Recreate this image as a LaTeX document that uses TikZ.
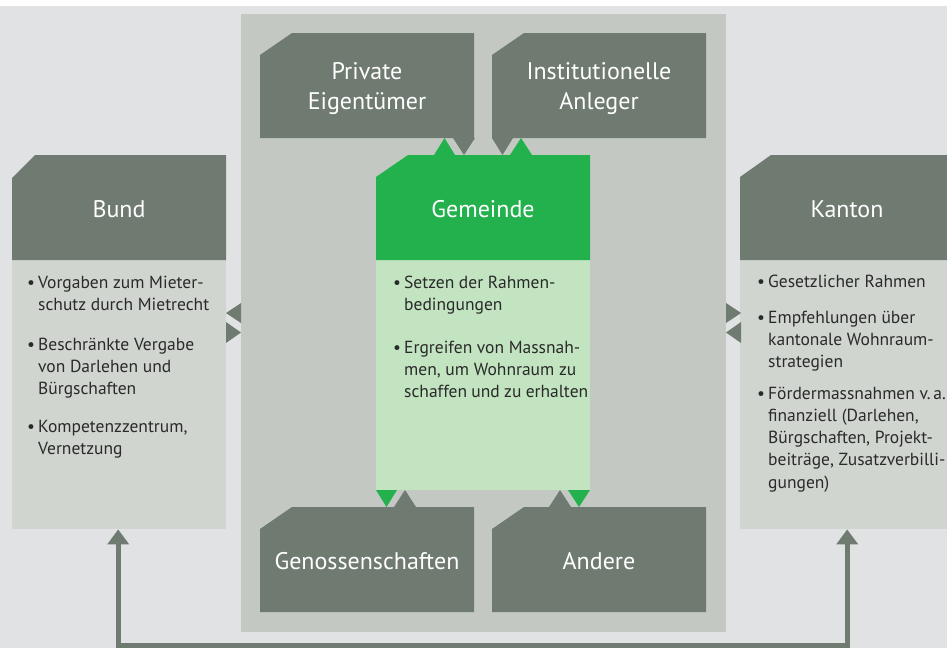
\documentclass[tikz,border=0pt]{standalone}
\usepackage{fontspec}
\setmainfont{PT Sans}
\usetikzlibrary{arrows.meta}
\definecolor{dk}{HTML}{6F7A71}
\definecolor{bg}{HTML}{E1E2E4}
\definecolor{panel}{HTML}{C3C8C3}
\definecolor{bodyc}{HTML}{D0D5D0}
\definecolor{grn}{HTML}{22B14C}
\definecolor{lgrn}{HTML}{C2E4C0}
\definecolor{txt}{HTML}{2A2A2A}
\newcommand{\bul}{\makebox[11pt][l]{•}}
\tikzset{
  headtext/.style={text=white, align=center, inner sep=0pt, font=\fontsize{24}{30}\selectfont},
  bodytext/.style={anchor=base west, inner sep=0pt, text=txt, font=\fontsize{17.5}{22.3}\selectfont},
  bodybox/.style={fill=#1, inner sep=0pt, anchor=north west, minimum width=214pt},
  conn/.style={draw=dk, line width=5pt, line join=miter, {Triangle[width=21pt,length=15pt]}-{Triangle[width=21pt,length=15pt]}}
}
\begin{document}
\begin{tikzpicture}[x=1pt,y=-1pt]
\useasboundingbox (0,0) rectangle (947,648);
\clip (0,0) rectangle (947,648);
\fill[white] (0,0) rectangle (947,6);
\fill[bg] (0,6) rectangle (947,648);
\fill[panel] (240.5,14) rectangle (725.5,632);

% bodies
\node[bodybox=bodyc, minimum height=269pt] (bundbody) at (12,260) {};
\node[bodybox=bodyc, minimum height=269pt] (kantonbody) at (740,260) {};
\node[bodybox=lgrn, minimum height=230pt] (gemeindebody) at (376,260) {};

% headers
\fill[dk] (12,178) -- (35,155) -- (226,155) -- (226,260) -- (12,260) -- cycle;
\fill[dk] (740,177) -- (771,155) -- (954,155) -- (954,260) -- (740,260) -- cycle;
\fill[grn] (376,177) -- (408,155) -- (590,155) -- (590,260) -- (376,260) -- cycle;
\fill[dk] (260,55) -- (292,33) -- (474,33) -- (474,138) -- (260,138) -- cycle;
\fill[dk] (492,55) -- (524,33) -- (706,33) -- (706,138) -- (492,138) -- cycle;
\fill[dk] (260,529) -- (292,507) -- (474,507) -- (474,612) -- (260,612) -- cycle;
\fill[dk] (492,529) -- (524,507) -- (706,507) -- (706,612) -- (492,612) -- cycle;

\node[headtext] (bund) at (119,209) {Bund};
\node[headtext] (kanton) at (847,209) {Kanton};
\node[headtext] (gemeinde) at (483,209) {Gemeinde};
\node[headtext] (private) at (367,89) {Private\\Eigentümer};
\node[headtext] (institutionelle) at (599,89) {Institutionelle\\Anleger};
\node[headtext] (genossen) at (367,561) {Genossenschaften};
\node[headtext] (andere) at (599,561) {Andere};

% triangles top
\fill[grn] (434,155) -- (444.5,138) -- (455,155) -- cycle;
\fill[dk] (453,138) -- (464,155) -- (475,138) -- cycle;
\fill[dk] (492,138) -- (502.5,155) -- (513,138) -- cycle;
\fill[grn] (510,155) -- (521,138) -- (532,155) -- cycle;
% triangles bottom
\fill[grn] (376,490) -- (386.5,507) -- (397,490) -- cycle;
\fill[dk] (394,507) -- (405,490) -- (416,507) -- cycle;
\fill[dk] (549,507) -- (560,490) -- (571,507) -- cycle;
\fill[grn] (568,490) -- (579,507) -- (590,490) -- cycle;
% triangles sides
\fill[dk] (241,303) -- (226,313) -- (241,323) -- cycle;
\fill[dk] (226,322) -- (241,332.5) -- (226,343) -- cycle;
\fill[dk] (726,303) -- (741,313) -- (726,323) -- cycle;
\fill[dk] (741,322) -- (726,332.5) -- (741,343) -- cycle;

% body texts
\node[bodytext] (b1) at (27,288) {\parbox[t]{195pt}{\hangindent=11pt\hangafter=1\bul Vorgaben zum Mieter-\\schutz durch Mietrecht}};
\node[bodytext] (b2) at (27,350) {\parbox[t]{195pt}{\hangindent=11pt\hangafter=1\bul Beschränkte Vergabe\\von Darlehen und\\Bürgschaften}};
\node[bodytext] (b3) at (27,432) {\parbox[t]{195pt}{\hangindent=11pt\hangafter=1\bul Kompetenzzentrum,\\Vernetzung}};

\node[bodytext] (k1) at (757,287) {\parbox[t]{190pt}{\hangindent=11pt\hangafter=1\bul Gesetzlicher Rahmen}};
\node[bodytext] (k2) at (757,323) {\parbox[t]{190pt}{\hangindent=11pt\hangafter=1\bul Empfehlungen über\\kantonale Wohnraum-\\strategien}};
\node[bodytext] (k3) at (757,399) {\parbox[t]{190pt}{\hangindent=11pt\hangafter=1\bul Fördermassnahmen v.\,a.\\finanziell (Darlehen,\\Bürgschaften, Projekt-\\beiträge, Zusatzverbilli-\\gungen)}};

\node[bodytext] (g1) at (393,288) {\parbox[t]{195pt}{\hangindent=11pt\hangafter=1\bul Setzen der Rahmen-\\bedingungen}};
\node[bodytext] (g2) at (393,353) {\parbox[t]{195pt}{\hangindent=11pt\hangafter=1\bul Ergreifen von Massnah-\\men, um Wohnraum zu\\schaffen und zu erhalten}};

% connector
\coordinate (low) at (0,645);
\draw[conn] ([xshift=-1pt]bundbody.south) -- ([xshift=-1pt]bundbody.south |- low) -- (kantonbody.south |- low) -- (kantonbody.south);
\end{tikzpicture}
\end{document}
